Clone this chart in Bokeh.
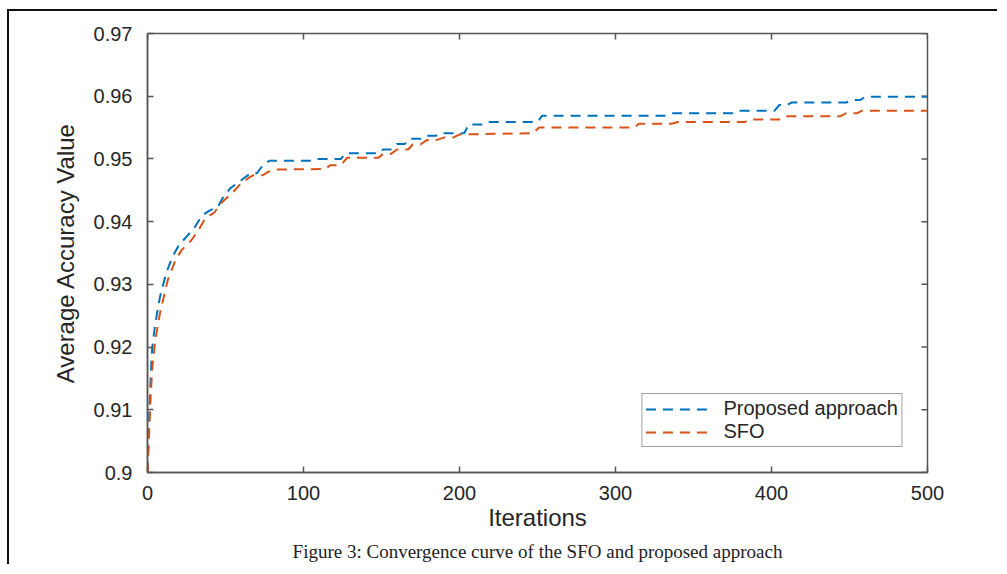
import math
from bokeh.plotting import figure
from bokeh.models import (FixedTicker, CustomJSTickFormatter, Legend,
                          LegendItem, Title, Range1d)
from bokeh.embed import file_html
from bokeh.resources import INLINE

# ---------------- data ----------------
iters_proposed = [0, 1, 2, 3, 5, 8, 12, 16, 20, 25, 30, 35, 40, 45, 48, 53, 60, 66, 70, 74, 78,
                  104, 107, 124, 127, 148, 151, 156, 160, 165, 168, 175, 178, 185, 188, 203, 206,
                  215, 218, 250, 253, 333, 337, 375, 379, 402, 405, 410, 413, 448, 452, 457, 460, 500]
acc_proposed = [0.9000, 0.9080, 0.9150, 0.9199, 0.9238, 0.9280, 0.9318, 0.9344, 0.9362, 0.9376,
                0.9390, 0.9410, 0.9418, 0.9423, 0.9437, 0.9453, 0.9466, 0.9477, 0.9477, 0.9490,
                0.9497, 0.9497, 0.9500, 0.9500, 0.9509, 0.9509, 0.9515, 0.9515, 0.9524, 0.9524,
                0.9532, 0.9532, 0.9537, 0.9537, 0.9541, 0.9541, 0.9555, 0.9555, 0.9559, 0.9559,
                0.9569, 0.9569, 0.9573, 0.9573, 0.9577, 0.9577, 0.9586, 0.9586, 0.9590, 0.9590,
                0.9594, 0.9594, 0.9599, 0.9599]

iters_sfo = [0, 1, 2, 3, 5, 8, 13, 18, 22, 28, 33, 37, 43, 47, 54, 60, 65, 68, 74, 77, 82,
             114, 117, 124, 128, 148, 151, 156, 160, 167, 170, 175, 179, 185, 190, 196, 200,
             247, 251, 312, 315, 336, 340, 383, 386, 407, 410, 444, 448, 455, 458, 500]
acc_sfo = [0.9000, 0.9060, 0.9120, 0.9165, 0.9211, 0.9254, 0.9307, 0.9339, 0.9355, 0.9370,
           0.9388, 0.9405, 0.9415, 0.9429, 0.9445, 0.9461, 0.9470, 0.9474, 0.9474, 0.9479,
           0.9483, 0.9484, 0.9490, 0.9490, 0.9502, 0.9502, 0.9508, 0.9508, 0.9515, 0.9515,
           0.9523, 0.9523, 0.9530, 0.9530, 0.9534, 0.9534, 0.9539, 0.9541, 0.9550, 0.9550,
           0.9556, 0.9556, 0.9559, 0.9559, 0.9563, 0.9563, 0.9568, 0.9568, 0.9573, 0.9573,
           0.9577, 0.9577]

x_ticks = [0, 100, 200, 300, 400, 500]
y_ticks = [0.90, 0.91, 0.92, 0.93, 0.94, 0.95, 0.96, 0.97]
series_labels = ["Proposed approach", "SFO"]
x_title = "Iterations"
y_title = "Average Accuracy Value"
caption = "Figure 3: Convergence curve of the SFO and proposed approach"

X_MIN, X_MAX = 0, 500
Y_MIN, Y_MAX = 0.9, 0.97

# ---------------- figure ----------------
AX = "#555555"
TXT = "#262626"
p = figure(width=990, height=555, output_backend="svg", toolbar_location=None,
           x_range=Range1d(X_MIN, X_MAX), y_range=Range1d(Y_MIN, Y_MAX),
           min_border_left=138, min_border_right=72, min_border_top=22, min_border_bottom=93,
           background_fill_color="white", border_fill_color="white")
p.styles = {"margin": "9px 0px 0px 7px",
            "border-left": "2px solid #111111",
            "border-top": "2px solid #111111"}
p.grid.visible = False
p.outline_line_color = AX
p.outline_line_width = 1.5

p.xaxis.ticker = FixedTicker(ticks=x_ticks)
p.yaxis.ticker = FixedTicker(ticks=y_ticks)
p.yaxis.formatter = CustomJSTickFormatter(code="return String(+tick.toFixed(2));")
for ax in (p.xaxis[0], p.yaxis[0]):
    ax.axis_line_color = AX
    ax.axis_line_width = 1.5
    ax.major_tick_line_color = AX
    ax.major_tick_line_width = 1.5
    ax.major_tick_in = 6
    ax.major_tick_out = 0
    ax.minor_tick_line_color = None
    ax.major_label_text_font = "Liberation Sans"
    ax.major_label_text_font_size = "20px"
    ax.major_label_text_color = TXT
    ax.axis_label_text_font = "Liberation Sans"
    ax.axis_label_text_font_size = "24px"
    ax.axis_label_text_font_style = "normal"
    ax.axis_label_text_color = TXT

p.xaxis.axis_label = x_title
p.yaxis.axis_label = y_title
p.xaxis.major_label_standoff = 13
p.xaxis.axis_label_standoff = 1
p.yaxis.major_label_standoff = 15
p.yaxis.axis_label_standoff = 12

# inward tick marks on the top and right edges (MATLAB "box on"); clipped to the frame
p.scatter(x_ticks, [Y_MAX] * len(x_ticks), marker="dash", angle=math.pi / 2, size=12,
          line_color=AX, line_width=1.5)
p.scatter([X_MAX] * len(y_ticks), y_ticks, marker="dash", size=12,
          line_color=AX, line_width=1.5)

r1 = p.line(iters_proposed, acc_proposed, line_color="#0072BD", line_width=2, line_dash="10 7")
r2 = p.line(iters_sfo, acc_sfo, line_color="#D95319", line_width=2, line_dash="10 7")

legend = Legend(items=[LegendItem(label=series_labels[0], renderers=[r1]),
                       LegendItem(label=series_labels[1], renderers=[r2])],
                location="bottom_right", margin=25, padding=3, spacing=0,
                glyph_width=68, glyph_height=18, label_standoff=10,
                label_text_font="Liberation Sans", label_text_font_size="20px",
                label_text_color=TXT, label_height=18,
                border_line_color="#444444", border_line_width=1,
                background_fill_color="white", background_fill_alpha=1)
p.add_layout(legend)

p.add_layout(Title(text=caption, align="center", text_font="Liberation Serif",
                   text_font_size="19px", text_font_style="normal", text_color="#222222",
                   offset=0), "below")

open("out.html", "w").write(file_html(p, INLINE))
